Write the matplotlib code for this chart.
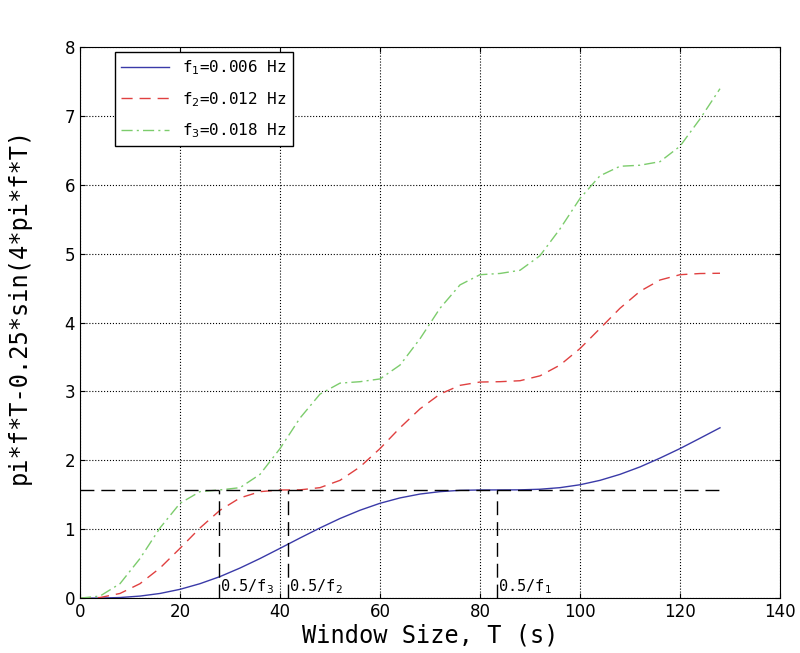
import numpy as np
from matplotlib import pyplot as plt

# window size T (s)
T = [0, 4, 8, 12, 16, 20, 24, 28, 32, 36, 40, 44, 48, 52, 56, 60, 64,
     68, 72, 76, 80, 84, 88, 92, 96, 100, 104, 108, 112, 116, 120, 124, 128]
# f1 = 0.006 Hz
y_f1 = [0, 0.001, 0.009, 0.030, 0.068, 0.128, 0.210, 0.313, 0.437, 0.575, 0.723,
        0.873, 1.019, 1.156, 1.276, 1.377, 1.455, 1.511, 1.546, 1.565, 1.570, 1.571,
        1.572, 1.581, 1.604, 1.646, 1.710, 1.797, 1.905, 2.033, 2.171, 2.321, 2.473]
# f2 = 0.012 Hz
y_f2 = [0, 0.009, 0.068, 0.210, 0.437, 0.723, 1.019, 1.276, 1.455, 1.546, 1.570,
        1.572, 1.604, 1.710, 1.905, 2.171, 2.473, 2.748, 2.962, 3.089, 3.137, 3.142,
        3.156, 3.227, 3.383, 3.623, 3.914, 4.208, 4.454, 4.618, 4.695, 4.712, 4.716]
# f3 = 0.018 Hz
y_f3 = [0, 0.030, 0.210, 0.575, 1.019, 1.377, 1.546, 1.571, 1.604, 1.797, 2.171,
        2.614, 2.962, 3.121, 3.142, 3.182, 3.383, 3.765, 4.208, 4.547, 4.695, 4.713,
        4.759, 4.971, 5.360, 5.802, 6.131, 6.269, 6.284, 6.336, 6.560, 6.956, 7.395]
half_pi = 1.5708
t_marks = [27.78, 41.67, 83.33]
mark_labels = ['0.5/f$_3$', '0.5/f$_2$', '0.5/f$_1$']

mono = 'DejaVu Sans Mono'
fig = plt.figure(figsize=(8, 6.53), dpi=100)
ax = fig.add_axes([0.1, 0.084, 0.875, 0.844])

ax.plot(T, y_f1, color='#3a3aa8', lw=1.0, label='f$_1$=0.006 Hz')
ax.plot(T, y_f2, color='#e04040', lw=1.0, ls=(0, (8, 5)), label='f$_2$=0.012 Hz')
ax.plot(T, y_f3, color='#7ccc6c', lw=1.0, ls=(0, (8, 3, 1.5, 3)), label='f$_3$=0.018 Hz')

ax.plot([0, 128], [half_pi, half_pi], color='black', lw=1.0, ls=(0, (10, 5)))
for t, lab in zip(t_marks, mark_labels):
    ax.plot([t, t], [0, half_pi], color='black', lw=1.0, ls=(0, (10, 5)))
    ax.text(t + 0.2, 0.03, lab, family=mono, fontsize=11, va='bottom', ha='left')

ax.set_xlim(0, 140)
ax.set_ylim(0, 8)
ax.set_xticks(range(0, 141, 20))
ax.set_yticks(range(0, 9))
ax.grid(True, color='black', ls=':', lw=0.8)
ax.tick_params(direction='in', top=True, right=True, labelsize=12)
ax.set_xlabel('Window Size, T (s)', family=mono, fontsize=17, labelpad=2)
ax.set_ylabel('pi*f*T-0.25*sin(4*pi*f*T)', family=mono, fontsize=17, labelpad=2)
ax.yaxis.set_label_coords(-0.07, 0.53)

leg = ax.legend(loc='upper left', bbox_to_anchor=(0.05, 0.991), borderaxespad=0,
                prop={'family': mono, 'size': 11.5}, fancybox=False, edgecolor='black',
                framealpha=1, handlelength=3.0, labelspacing=0.8)
leg.get_frame().set_linewidth(1.0)

plt.savefig('out.png')
